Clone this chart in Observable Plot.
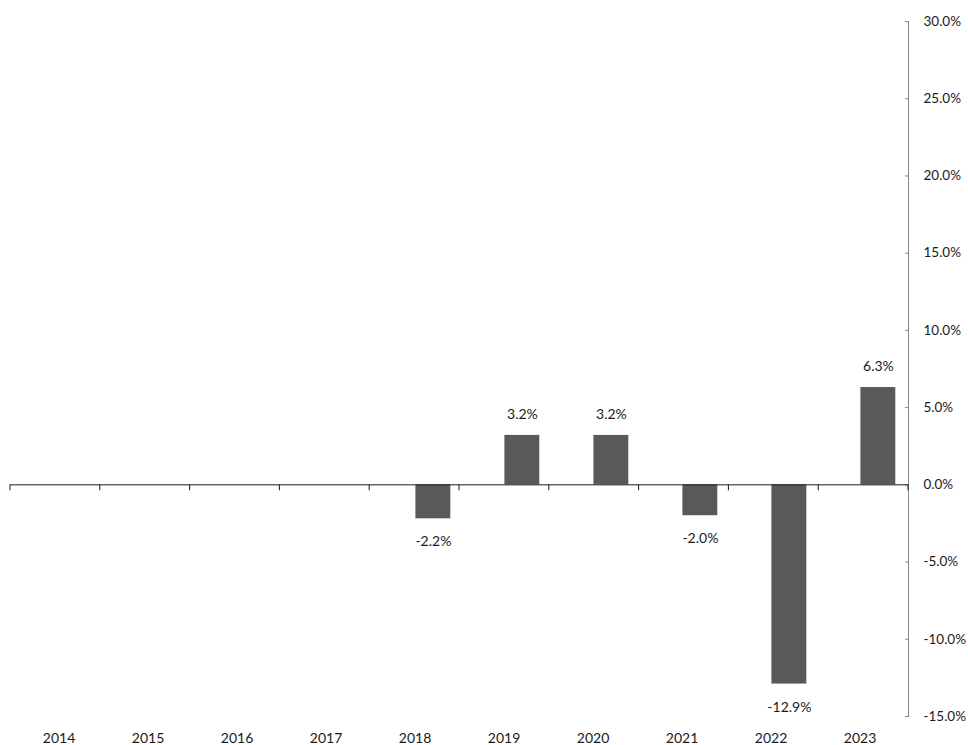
<!DOCTYPE html>
<html>
<head>
<meta charset="utf-8">
<script src="https://cdn.jsdelivr.net/npm/d3@7"></script>
<script src="https://cdn.jsdelivr.net/npm/@observablehq/plot@0.6"></script>
<style>
  html, body { margin: 0; padding: 0; background: #fff; }
  #chart svg { display: block; }
</style>
</head>
<body>
<div id="chart"></div>
<script>
const years = ["2014","2015","2016","2017","2018","2019","2020","2021","2022","2023"];
const values = [null, null, null, null, -2.2, 3.2, 3.2, -2.0, -12.9, 6.3];
const yTicks = [-15, -10, -5, 0, 5, 10, 15, 20, 25, 30];

const data = years.map((year, i) => ({year, value: values[i]}));
const bars = data.filter(d => d.value != null);
const fmt = v => v.toFixed(1) + "%";

function boundaryTicks(index, scales, vals, dims) {
  const g = d3.create("svg:g");
  const step = (dims.width - dims.marginLeft - dims.marginRight) / years.length;
  const y0 = scales.y(0);
  for (let i = 0; i <= years.length; i++) {
    const xb = dims.marginLeft + i * step;
    g.append("line")
      .attr("x1", xb).attr("x2", xb)
      .attr("y1", y0).attr("y2", y0 + 6)
      .attr("stroke", "#1a1a1a").attr("stroke-width", 1);
  }
  return g.node();
}

const plot = Plot.plot({
  width: 968,
  height: 745,
  marginLeft: 10,
  marginRight: 60,
  marginTop: 21,
  marginBottom: 29,
  style: {fontFamily: "Lato, sans-serif", fontSize: "14px", color: "#1a1a1a", background: "#fff"},
  x: {domain: years, padding: 0, label: null},
  y: {domain: [-15, 30], label: null},
  marks: [
    Plot.frame({anchor: "right", stroke: "#868686"}),
    Plot.axisY({anchor: "right", ticks: yTicks, tickFormat: fmt, tickSize: 4, insetRight: 4, tickPadding: 15, stroke: "#868686", fill: "#1a1a1a", fontSize: 13.5, label: null}),
    Plot.axisX({anchor: "bottom", tickSize: 0, tickPadding: 17, fill: "#1a1a1a", label: null}),
    Plot.barY(bars, {x: "year", y: "value", fill: "#595959", insetLeft: 45.4, insetRight: 8.7}),
    Plot.ruleY([0], {stroke: "#1a1a1a", strokeWidth: 1}),
    boundaryTicks,
    Plot.text(bars.filter(d => d.value > 0), {x: "year", y: "value", text: d => fmt(d.value), dx: 18.4, dy: -21, fill: "#1a1a1a"}),
    Plot.text(bars.filter(d => d.value < 0), {x: "year", y: "value", text: d => fmt(d.value), dx: 18.4, dy: 23, fill: "#1a1a1a"})
  ]
});
document.getElementById("chart").append(plot);
</script>
</body>
</html>
